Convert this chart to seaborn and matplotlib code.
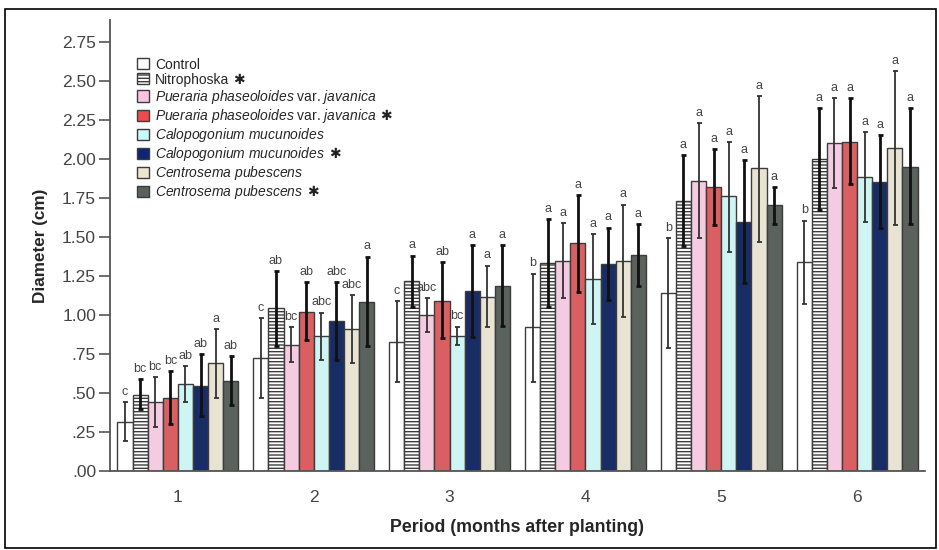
import pandas as pd
import numpy as np
import matplotlib
matplotlib.use("Agg")
import matplotlib.pyplot as plt
import matplotlib.patches as mpatches
import seaborn as sns

# ---- data ----
periods = ["1", "2", "3", "4", "5", "6"]
treatments = ["Control", "Nitrophoska*", "PP", "PP*", "CM", "CM*", "CP", "CP*"]

control = [0.316, 0.724, 0.827, 0.920, 1.141, 1.340]
nitro = [0.487, 1.047, 1.220, 1.333, 1.733, 2.002]
pp = [0.440, 0.810, 1.002, 1.348, 1.857, 2.100]
pp_s = [0.468, 1.020, 1.092, 1.460, 1.818, 2.111]
cm = [0.558, 0.863, 0.867, 1.229, 1.759, 1.883]
cm_s = [0.547, 0.960, 1.156, 1.327, 1.598, 1.853]
cp = [0.690, 0.910, 1.117, 1.348, 1.940, 2.070]
cp_s = [0.577, 1.085, 1.188, 1.383, 1.703, 1.951]

control_hi = [0.44, 0.98, 1.088, 1.265, 1.494, 1.605]
nitro_hi = [0.59, 1.28, 1.38, 1.615, 2.024, 2.325]
pp_hi = [0.60, 0.92, 1.11, 1.59, 2.227, 2.39]
pp_s_hi = [0.64, 1.21, 1.34, 1.77, 2.064, 2.39]
cm_hi = [0.67, 1.015, 0.925, 1.52, 2.11, 2.171]
cm_s_hi = [0.75, 1.21, 1.45, 1.56, 1.99, 2.154]
cp_hi = [0.91, 1.126, 1.316, 1.707, 2.40, 2.56]
cp_s_hi = [0.735, 1.374, 1.447, 1.583, 1.82, 2.325]

control_lo = [0.19, 0.466, 0.57, 0.57, 0.786, 1.07]
nitro_lo = [0.40, 0.80, 1.05, 1.05, 1.444, 1.673]
pp_lo = [0.28, 0.70, 0.89, 1.11, 1.49, 1.814]
pp_s_lo = [0.30, 0.84, 0.855, 1.147, 1.575, 1.84]
cm_lo = [0.44, 0.71, 0.81, 0.94, 1.404, 1.598]
cm_s_lo = [0.355, 0.71, 0.857, 1.096, 1.207, 1.556]
cp_lo = [0.466, 0.695, 0.92, 0.985, 1.47, 1.575]
cp_s_lo = [0.42, 0.80, 0.93, 1.188, 1.585, 1.583]

control_let = ["c", "c", "c", "b", "b", "b"]
nitro_let = ["bc", "ab", "a", "a", "a", "a"]
pp_let = ["bc", "bc", "abc", "a", "a", "a"]
pp_s_let = ["bc", "ab", "ab", "a", "a", "a"]
cm_let = ["ab", "abc", "bc", "a", "a", "a"]
cm_s_let = ["ab", "abc", "a", "a", "a", "a"]
cp_let = ["a", "abc", "a", "a", "a", "a"]
cp_s_let = ["ab", "a", "a", "a", "a", "a"]

means = [control, nitro, pp, pp_s, cm, cm_s, cp, cp_s]
highs = [control_hi, nitro_hi, pp_hi, pp_s_hi, cm_hi, cm_s_hi, cp_hi, cp_s_hi]
lows = [control_lo, nitro_lo, pp_lo, pp_s_lo, cm_lo, cm_s_lo, cp_lo, cp_s_lo]
letters = [control_let, nitro_let, pp_let, pp_s_let, cm_let, cm_s_let, cp_let, cp_s_let]

colors = ["#FFFFFF", "#FFFFFF", "#FCC4E2", "#EE4B4E", "#C8FAFA", "#0B2672", "#ECE5CF", "#5A625C"]
starred = [False, True, False, True, False, True, False, True]
legend_labels = [
    "Control",
    "Nitrophoska",
    r"$\mathit{Pueraria\ phaseoloides}$ var. $\mathit{javanica}$",
    r"$\mathit{Pueraria\ phaseoloides}$ var. $\mathit{javanica}$",
    r"$\mathit{Calopogonium\ mucunoides}$",
    r"$\mathit{Calopogonium\ mucunoides}$",
    r"$\mathit{Centrosema\ pubescens}$",
    r"$\mathit{Centrosema\ pubescens}$",
]

rows = []
for t, vals in zip(treatments, means):
    for p, v in zip(periods, vals):
        rows.append({"period": p, "treatment": t, "diameter": v})
df = pd.DataFrame(rows)

sns.set_style("white")
plt.rcParams["font.family"] = ["Liberation Sans", "DejaVu Sans"]
plt.rcParams["mathtext.fontset"] = "custom"
plt.rcParams["mathtext.rm"] = "Liberation Sans"
plt.rcParams["mathtext.it"] = "Liberation Sans:italic"
plt.rcParams["hatch.linewidth"] = 1.0

fig = plt.figure(figsize=(9.39, 5.5), dpi=100)
ax = fig.add_axes([110 / 939, 79 / 550, 815 / 939, 451 / 550])

sns.barplot(data=df, x="period", y="diameter", hue="treatment", hue_order=treatments,
            palette=dict(zip(treatments, colors)), width=0.89, gap=0, errorbar=None,
            edgecolor="#3c3c3c", linewidth=1.0, legend=False, ax=ax)

grey = "#444444"
bar_containers = list(ax.containers)
for i, cont in enumerate(bar_containers):
    xs = [p.get_x() + p.get_width() / 2 for p in cont.patches]
    if i == 1:
        for p in cont.patches:
            p.set_hatch("-----")
    m = np.array(means[i])
    yerr = [m - np.array(lows[i]), np.array(highs[i]) - m]
    lw = 2.0 if starred[i] else 1.3
    col = "#111111" if starred[i] else "#333333"
    ax.errorbar(xs, m, yerr=yerr, fmt="none", ecolor=col, elinewidth=lw,
                capsize=1.8, capthick=lw, zorder=5)
    for x, h, lab in zip(xs, highs[i], letters[i]):
        ax.annotate(lab, (x, h), xytext=(0, 3), textcoords="offset points",
                    ha="center", va="bottom", fontsize=9, color=grey)

ax.set_xlim(-0.5, 5.5)
ax.set_ylim(0, 2.89)
yt = np.arange(0, 2.76, 0.25)
ax.set_yticks(yt)
ax.set_yticklabels([f"{v:.2f}".lstrip("0") if v < 1 else f"{v:.2f}" for v in yt])
ax.tick_params(axis="y", direction="out", length=8, width=1.2, color="#555555",
               labelsize=12.5, labelcolor=grey, pad=2, left=True)
ax.tick_params(axis="x", length=0, labelsize=12.5, labelcolor=grey, pad=14)

for s in ["top", "right"]:
    ax.spines[s].set_visible(False)
for s in ["left", "bottom"]:
    ax.spines[s].set_color("#555555")
    ax.spines[s].set_linewidth(1.3)

ax.set_ylabel("Diameter (cm)", fontsize=12.3, fontweight="bold", labelpad=10)
ax.set_xlabel("Period (months after planting)", fontsize=12.8, fontweight="bold", labelpad=10)

handles = [mpatches.Patch(facecolor=c, edgecolor="#3c3c3c", linewidth=1.0,
                          hatch="-----" if i == 1 else None)
           for i, c in enumerate(colors)]
leg = ax.legend(handles, legend_labels, loc="upper left", bbox_to_anchor=(0.026, 0.929),
                frameon=False, fontsize=10, handlelength=0.9, handleheight=0.85,
                handletextpad=0.4, labelspacing=0.08, borderaxespad=0)
for i, txt in enumerate(leg.get_texts()):
    if starred[i]:
        ax.annotate("\u2731", xy=(1, 0.5), xycoords=txt, xytext=(3, 0),
                    textcoords="offset points", ha="left", va="center",
                    fontsize=10, family=["DejaVu Sans"], color="#222222", zorder=10)

fig.patches.append(mpatches.Rectangle((5 / 939, 2 / 550), 931 / 939, 539 / 550,
                                      transform=fig.transFigure, fill=False,
                                      edgecolor="black", linewidth=1.2))

fig.savefig("out.png", dpi=100)
